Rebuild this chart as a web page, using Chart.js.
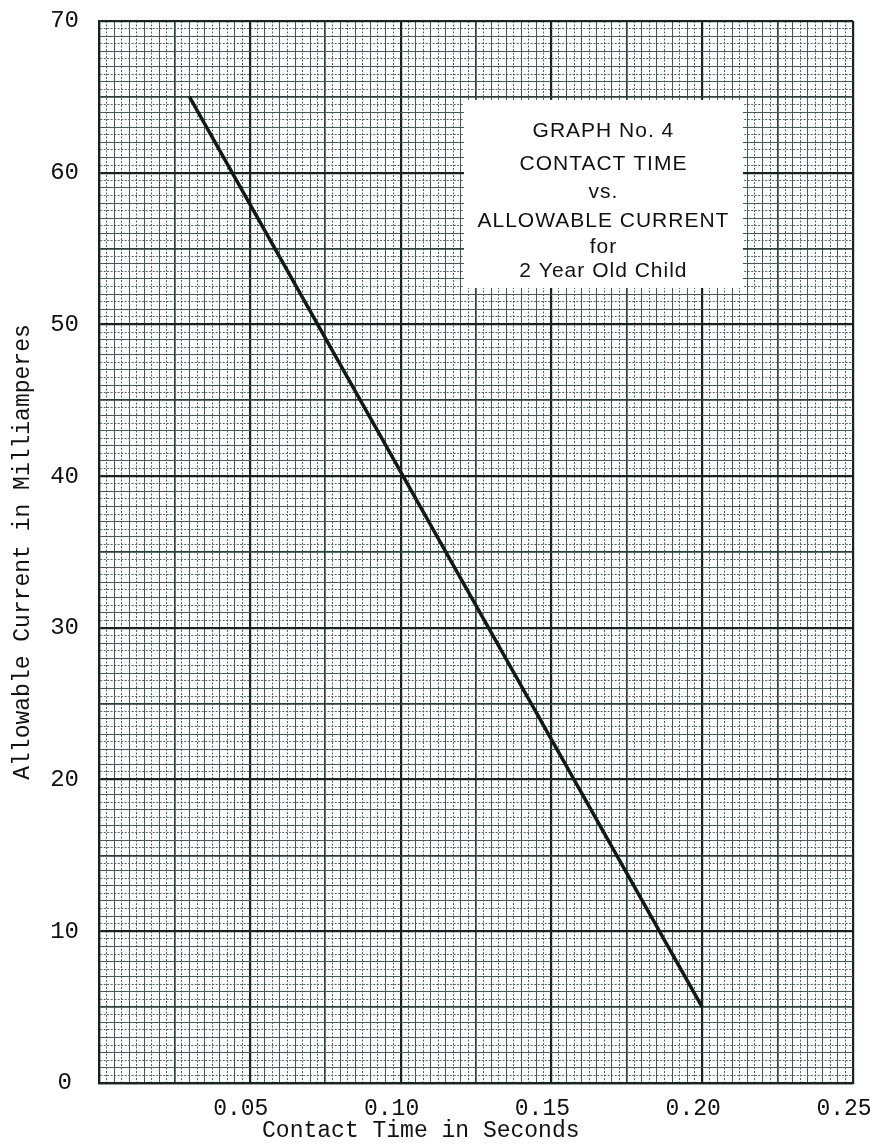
<!DOCTYPE html>
<html>
<head>
<meta charset="utf-8">
<script src="https://cdn.jsdelivr.net/npm/chart.js@4"></script>
<style>
  html, body { margin: 0; padding: 0; background: #ffffff; }
  #wrap { width: 877px; height: 1145px; }
</style>
</head>
<body>
<div id="wrap"><canvas id="chart" width="877" height="1145"></canvas></div>
<script>
// contact time (s) vs allowable current (mA)
const contactTime = [0.03, 0.20];
const allowableCurrent = [65, 5];

// axis tick labels
const xTickValues = [0.05, 0.10, 0.15, 0.20, 0.25];
const xTickLabels = ['0.05', '0.10', '0.15', '0.20', '0.25'];
const yTickValues = [0, 10, 20, 30, 40, 50, 60, 70];
const yTickLabels = ['0', '10', '20', '30', '40', '50', '60', '70'];

// caption box text
const captionLines = ['GRAPH No. 4', 'CONTACT TIME', 'vs.', 'ALLOWABLE CURRENT', 'for', '2 Year Old Child'];

// graph paper: fine / medium / major divisions
const X_FINE = 0.0025, Y_FINE = 0.5;
const INK = '#16241f';

function gridStyle(idx, majorEvery, midEvery) {
  if (idx % majorEvery === 0) return { c: INK, w: 2.2, dash: [] };
  if (idx % midEvery === 0) return { c: '#27423a', w: 1.7, dash: [] };
  if (idx % 2 === 0) return { c: '#3f5d52', w: 1, dash: [] };
  return { c: '#4a685d', w: 1, dash: [2, 1.5] };
}
const xIdx = v => Math.round(v / X_FINE);
const yIdx = v => Math.round(v / Y_FINE);

const caption = {
  id: 'caption',
  beforeDatasetsDraw(chart) {
    const { ctx, scales: { x, y } } = chart;
    // box spans 0.121..0.2135 s and 52.4..64.8 mA
    const left = x.getPixelForValue(0.121), right = x.getPixelForValue(0.2135);
    const top = y.getPixelForValue(64.8), bottom = y.getPixelForValue(52.4);
    ctx.save();
    ctx.fillStyle = '#ffffff';
    ctx.fillRect(left, top, right - left, bottom - top);
    ctx.fillStyle = '#111';
    ctx.font = '21px "Liberation Sans", Arial, sans-serif';
    ctx.letterSpacing = '1px';
    ctx.textAlign = 'center';
    ctx.textBaseline = 'alphabetic';
    const baselines = [37, 70, 98, 127, 153, 177];
    const cx = (left + right) / 2;
    captionLines.forEach((t, i) => ctx.fillText(t, cx, top + baselines[i]));
    ctx.restore();
  }
};

new Chart(document.getElementById('chart').getContext('2d'), {
  type: 'line',
  data: {
    datasets: [{
      data: contactTime.map((t, i) => ({ x: t, y: allowableCurrent[i] })),
      borderColor: '#101a16',
      borderWidth: 3.5,
      pointRadius: 0,
      tension: 0,
      fill: false
    }]
  },
  options: {
    responsive: false,
    animation: false,
    devicePixelRatio: 1,
    layout: { padding: { left: 9, top: 21, right: 24, bottom: 0 } },
    plugins: {
      legend: { display: false },
      tooltip: { enabled: false }
    },
    scales: {
      x: {
        type: 'linear',
        min: 0,
        max: 0.25,
        afterFit: s => { s.height = 62; s.paddingLeft = 0; s.paddingRight = 0; },
        border: {
          display: true, color: INK, width: 2.2,
          dash: c => c.tick ? gridStyle(xIdx(c.tick.value), 20, 10).dash : []
        },
        grid: {
          drawTicks: false,
          color: c => gridStyle(xIdx(c.tick.value), 20, 10).c,
          lineWidth: c => gridStyle(xIdx(c.tick.value), 20, 10).w
        },
        ticks: {
          stepSize: X_FINE,
          autoSkip: false,
          maxRotation: 0,
          minRotation: 0,
          padding: 12,
          labelOffset: -9,
          color: '#111',
          font: { family: '"Liberation Mono", "Courier New", monospace', size: 23 },
          callback: v => {
            const k = xTickValues.findIndex(t => Math.abs(t - v) < 1e-6);
            return k >= 0 ? xTickLabels[k] : '';
          }
        },
        title: {
          display: true,
          text: 'Contact Time in Seconds' + '\u00a0'.repeat(8),
          color: '#111',
          padding: 0,
          font: { family: '"Liberation Mono", "Courier New", monospace', size: 23 }
        }
      },
      y: {
        type: 'linear',
        min: 0,
        max: 70,
        afterFit: s => { s.width = 90; s.paddingTop = 0; s.paddingBottom = 0; },
        border: {
          display: true, color: INK, width: 2.2,
          dash: c => c.tick ? gridStyle(yIdx(c.tick.value), 20, 10).dash : []
        },
        grid: {
          drawTicks: false,
          color: c => gridStyle(yIdx(c.tick.value), 20, 10).c,
          lineWidth: c => gridStyle(yIdx(c.tick.value), 20, 10).w
        },
        ticks: {
          stepSize: Y_FINE,
          autoSkip: false,
          padding: 20,
          crossAlign: 'center',
          color: '#111',
          font: { family: '"Liberation Mono", "Courier New", monospace', size: 24 },
          callback: v => {
            const k = yTickValues.findIndex(t => Math.abs(t - v) < 1e-6);
            return k >= 0 ? yTickLabels[k] : '';
          }
        },
        title: {
          display: true,
          text: 'Allowable Current in Milliamperes',
          color: '#111',
          padding: 0,
          font: { family: '"Liberation Mono", "Courier New", monospace', size: 23 }
        }
      }
    }
  },
  plugins: [caption]
});
</script>
</body>
</html>
